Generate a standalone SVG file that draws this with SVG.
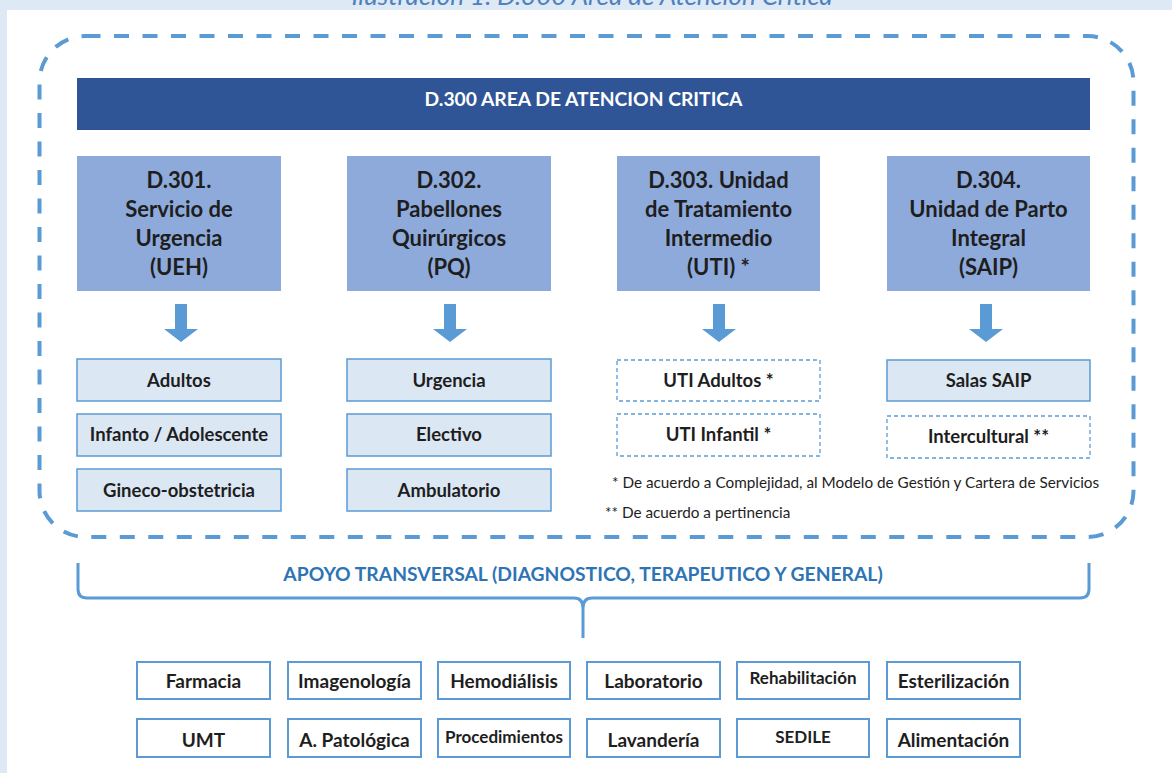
<svg xmlns="http://www.w3.org/2000/svg" width="1172" height="773" viewBox="0 0 1172 773">
<style>
.t{font-family:Lato,"Open Sans","Liberation Sans",sans-serif;fill:#1e1e1e;text-anchor:middle}
.b{font-weight:bold}
.hd{font-size:22px;font-weight:bold}
.sb{font-size:18.5px;font-weight:bold}
.bx{font-size:19px;font-weight:bold}
.sm{font-size:17px;font-weight:bold}
.nt{font-size:15.3px;text-anchor:start}
.main{fill:#8eaadb}
.sub{fill:#dce7f4;stroke:#5b9bd5;stroke-width:1.5}
.dsh{fill:#fff;stroke:#5b9bd5;stroke-width:1.3;stroke-dasharray:4 3}
.sup{fill:#fff;stroke:#5b9bd5;stroke-width:2}
.arr{fill:#5b9bd5}
</style>
<rect x="0" y="0" width="1172" height="773" fill="#dde9f5"/>
<rect x="7" y="10" width="1165" height="763" fill="#fff"/>
<text x="592" y="5" class="t" style="font-size:26px;font-style:italic;fill:#4f81bd">Ilustración 1. D.300 Area de Atencion Critica</text>

<g id="area">
<rect x="39.5" y="36" width="1094" height="501" rx="46" ry="46" fill="none" stroke="#5b9bd5" stroke-width="4" stroke-dasharray="15 13.5"/>
</g>

<g id="d300">
<rect x="77" y="78" width="1013" height="52" fill="#2f5597"/>
<text x="583.5" y="106" class="t b" style="font-size:19.3px;fill:#fff">D.300 AREA DE ATENCION CRITICA</text>
</g>

<g id="d301">
<rect class="main" x="77" y="156" width="204" height="135"/>
<text class="t hd" x="179" y="188">D.301.</text>
<text class="t hd" x="179" y="217">Servicio de</text>
<text class="t hd" x="179" y="246">Urgencia</text>
<text class="t hd" x="179" y="275">(UEH)</text>
</g>
<g id="d302">
<rect class="main" x="347" y="156" width="204" height="135"/>
<text class="t hd" x="449" y="188">D.302.</text>
<text class="t hd" x="449" y="217">Pabellones</text>
<text class="t hd" x="449" y="246">Quirúrgicos</text>
<text class="t hd" x="449" y="275">(PQ)</text>
</g>
<g id="d303">
<rect class="main" x="617" y="156" width="203" height="135"/>
<text class="t hd" x="718.5" y="188">D.303. Unidad</text>
<text class="t hd" x="718.5" y="217">de Tratamiento</text>
<text class="t hd" x="718.5" y="246">Intermedio</text>
<text class="t hd" x="718.5" y="275">(UTI) *</text>
</g>
<g id="d304">
<rect class="main" x="887" y="156" width="203" height="135"/>
<text class="t hd" x="988.5" y="188">D.304.</text>
<text class="t hd" x="988.5" y="217">Unidad de Parto</text>
<text class="t hd" x="988.5" y="246">Integral</text>
<text class="t hd" x="988.5" y="275">(SAIP)</text>
</g>

<g id="adultos"><rect class="sub" x="77" y="359" width="204" height="42"/><text class="t sb" x="179" y="386.5">Adultos</text></g>
<g id="infanto"><rect class="sub" x="77" y="414" width="204" height="42"/><text class="t sb" x="179" y="440.5">Infanto / Adolescente</text></g>
<g id="gineco"><rect class="sub" x="77" y="469" width="204" height="42"/><text class="t sb" x="179" y="496.5">Gineco-obstetricia</text></g>

<g id="urgencia"><rect class="sub" x="347" y="359" width="204" height="42"/><text class="t sb" x="449" y="386.5">Urgencia</text></g>
<g id="electivo"><rect class="sub" x="347" y="414" width="204" height="42"/><text class="t sb" x="449" y="440.5">Electivo</text></g>
<g id="ambulatorio"><rect class="sub" x="347" y="469" width="204" height="42"/><text class="t sb" x="449" y="496.5">Ambulatorio</text></g>

<g id="uti-adultos"><rect class="dsh" x="617" y="360" width="203" height="41"/><text class="t sb" x="718.5" y="386.5">UTI Adultos *</text></g>
<g id="uti-infantil"><rect class="dsh" x="617" y="414" width="203" height="42"/><text class="t sb" x="718.5" y="440.5">UTI Infantil *</text></g>

<g id="salas-saip"><rect class="sub" x="887" y="360" width="203" height="41"/><text class="t sb" x="988.5" y="386.5">Salas SAIP</text></g>
<g id="intercultural"><rect class="dsh" x="887" y="416" width="203" height="42"/><text class="t sb" x="988.5" y="442.5">Intercultural **</text></g>

<g id="notes">
<text class="t nt" x="612" y="487.5">* De acuerdo a Complejidad, al Modelo de Gestión y Cartera de Servicios</text>
<text class="t nt" x="605" y="517.5">** De acuerdo a pertinencia</text>
</g>

<g id="apoyo">
<text class="t b" x="583" y="581" style="font-size:19.3px;fill:#2e74b5">APOYO TRANSVERSAL (DIAGNOSTICO, TERAPEUTICO Y GENERAL)</text>
</g>

<g id="connectors">
<polygon class="arr" points="175,304 187,304 187,329 198,329 181,342 164,329 175,329"/>
<polygon class="arr" points="444,304 456,304 456,329 467,329 450,342 433,329 444,329"/>
<polygon class="arr" points="713,304 725,304 725,329 736,329 719,342 702,329 713,329"/>
<polygon class="arr" points="980,304 992,304 992,329 1003,329 986,342 969,329 980,329"/>
<path d="M78,563 V589 Q78,598 87,598 H574 Q583,598 583,608 V638 M1089,563 V589 Q1089,598 1080,598 H592 Q583,598 583,608" fill="none" stroke="#5b9bd5" stroke-width="3"/>
</g>

<g id="farmacia"><rect class="sup" x="137" y="662" width="133" height="37"/><text class="t bx" x="203.5" y="687.5">Farmacia</text></g>
<g id="imagenologia"><rect class="sup" x="288" y="662" width="133" height="37"/><text class="t bx" x="354.5" y="687.5">Imagenología</text></g>
<g id="hemodialisis"><rect class="sup" x="438" y="662" width="132" height="37"/><text class="t bx" x="504" y="687.5">Hemodiálisis</text></g>
<g id="laboratorio"><rect class="sup" x="587" y="662" width="133" height="37"/><text class="t bx" x="653.5" y="687.5">Laboratorio</text></g>
<g id="rehabilitacion"><rect class="sup" x="737" y="662" width="132" height="37"/><text class="t sm" x="803" y="684">Rehabilitación</text></g>
<g id="esterilizacion"><rect class="sup" x="887" y="662" width="133" height="37"/><text class="t bx" x="953.5" y="687.5">Esterilización</text></g>

<g id="umt"><rect class="sup" x="137" y="719" width="133" height="38"/><text class="t bx" x="203.5" y="746.5">UMT</text></g>
<g id="patologica"><rect class="sup" x="288" y="719" width="133" height="38"/><text class="t bx" x="354.5" y="746.5">A. Patológica</text></g>
<g id="procedimientos"><rect class="sup" x="438" y="719" width="132" height="38"/><text class="t sm" x="504" y="743">Procedimientos</text></g>
<g id="lavanderia"><rect class="sup" x="587" y="719" width="133" height="38"/><text class="t bx" x="653.5" y="746.5">Lavandería</text></g>
<g id="sedile"><rect class="sup" x="737" y="719" width="132" height="38"/><text class="t sm" x="803" y="743">SEDILE</text></g>
<g id="alimentacion"><rect class="sup" x="887" y="719" width="133" height="38"/><text class="t bx" x="953.5" y="746.5">Alimentación</text></g>
</svg>
